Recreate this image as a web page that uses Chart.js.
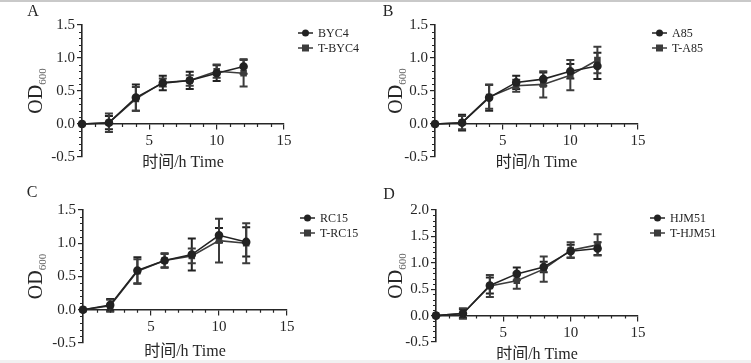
<!DOCTYPE html>
<html>
<head>
<meta charset="utf-8">
<script src="https://cdn.jsdelivr.net/npm/chart.js@4.4.1/dist/chart.umd.min.js"></script>
<style>
  body { margin: 0; background: #fff; }
  #wrap { position: relative; width: 751px; height: 363px; background: #fff; overflow: hidden; }
  #wrap canvas { position: absolute; }
  .topline { position: absolute; left: 0; top: 0; width: 751px; height: 2px; background: #c9c9c9; }
  .bottomband { position: absolute; left: 0; top: 360px; width: 751px; height: 3px; background: #f1f1f1; }
</style>
</head>
<body>
<div id="wrap">
  <div class="topline"></div>
  <canvas id="cA" width="375" height="180" style="left:0;top:0"></canvas>
  <canvas id="cB" width="376" height="180" style="left:375px;top:0"></canvas>
  <canvas id="cC" width="375" height="180" style="left:0;top:180px"></canvas>
  <canvas id="cD" width="376" height="180" style="left:375px;top:180px"></canvas>
  <div class="bottomband"></div>
</div>
<script>
// ---- data ----
const times = [0, 2, 4, 6, 8, 10, 12];
const xTicks = [5, 10, 15];
const yTicksABC = [-0.5, 0, 0.5, 1.0, 1.5];
const yTicksD = [-0.5, 0, 0.5, 1.0, 1.5, 2.0];

// A
const byc4 = [0, 0.02, 0.40, 0.62, 0.66, 0.77, 0.87];
const byc4Err = [0, 0.10, 0.20, 0.11, 0.13, 0.12, 0.11];
const tByc4 = [0, 0.02, 0.38, 0.63, 0.66, 0.80, 0.77];
const tByc4Err = [0, 0.14, 0.18, 0.06, 0.08, 0.10, 0.20];
// B
const a85 = [0, 0.02, 0.40, 0.63, 0.68, 0.80, 0.88];
const a85Err = [0, 0.12, 0.20, 0.10, 0.10, 0.11, 0.20];
const tA85 = [0, 0.02, 0.41, 0.58, 0.60, 0.74, 0.97];
const tA85Err = [0, 0.10, 0.18, 0.09, 0.20, 0.23, 0.20];
// C
const rc15 = [0, 0.07, 0.59, 0.74, 0.83, 1.12, 1.02];
const rc15Err = [0, 0.09, 0.20, 0.11, 0.24, 0.11, 0.22];
const tRc15 = [0, 0.06, 0.58, 0.74, 0.81, 1.04, 1.00];
const tRc15Err = [0, 0.09, 0.18, 0.10, 0.11, 0.33, 0.30];
// D
const hjm51 = [0, 0.04, 0.57, 0.79, 0.92, 1.22, 1.27];
const hjm51Err = [0, 0.08, 0.15, 0.12, 0.10, 0.12, 0.12];
const tHjm51 = [0, 0.04, 0.56, 0.66, 0.88, 1.24, 1.34];
const tHjm51Err = [0, 0.10, 0.21, 0.15, 0.24, 0.15, 0.20];

const SERIF = "'Liberation Serif', 'Noto Sans CJK SC', serif";
const INK = "#262626";

// error bars with caps, drawn through the scales
const errorBars = {
  id: "errorBars",
  beforeDatasetsDraw(chart) {
    const { ctx, scales: { x, y } } = chart;
    chart.data.datasets.forEach((ds) => {
      ctx.save();
      ctx.strokeStyle = ds.borderColor;
      ctx.lineWidth = 2;
      ds.data.forEach((p, j) => {
        const e = ds.errors[j];
        if (!e) return;
        const px = x.getPixelForValue(p.x);
        const top = y.getPixelForValue(p.y + e);
        const bot = y.getPixelForValue(p.y - e);
        ctx.beginPath();
        ctx.moveTo(px, top); ctx.lineTo(px, bot);
        ctx.moveTo(px - 4, top); ctx.lineTo(px + 4, top);
        ctx.moveTo(px - 4, bot); ctx.lineTo(px + 4, bot);
        ctx.stroke();
      });
      ctx.restore();
    });
  }
};

// minor ticks, y title with subscript, legend, panel letter
const decor = {
  id: "decor",
  afterDraw(chart) {
    const { ctx, scales: { x, y }, chartArea } = chart;
    const o = chart.options.plugins.decor;
    ctx.save();
    ctx.strokeStyle = INK;
    ctx.lineWidth = 1.2;
    const axisY = y.getPixelForValue(0);
    ctx.beginPath();
    for (let v = 1; v < 15; v++) {
      if (v % 5 === 0) continue;
      const px = Math.round(x.getPixelForValue(v)) + 0.5;
      ctx.moveTo(px, axisY); ctx.lineTo(px, axisY + 3);
    }
    for (let k = Math.round(y.min * 10); k <= Math.round(y.max * 10); k++) {
      if (k % 5 === 0) continue;
      const py = Math.round(y.getPixelForValue(k / 10)) + 0.5;
      ctx.moveTo(chartArea.left, py); ctx.lineTo(chartArea.left - 3, py);
    }
    ctx.stroke();

    // y title OD600
    ctx.fillStyle = INK;
    ctx.translate(o.titleX, (chartArea.top + chartArea.bottom) / 2);
    ctx.rotate(-Math.PI / 2);
    ctx.font = "20px " + SERIF;
    const w1 = ctx.measureText("OD").width;
    ctx.font = "11px " + SERIF;
    const w2 = ctx.measureText("600").width;
    const start = -(w1 + w2) / 2;
    ctx.textBaseline = "alphabetic";
    ctx.textAlign = "left";
    ctx.font = "20px " + SERIF;
    ctx.fillText("OD", start, 7);
    ctx.fillStyle = "#666";
    ctx.font = "11px " + SERIF;
    ctx.fillText("600", start + w1, 11);
    ctx.restore();

    // panel letter
    ctx.save();
    ctx.fillStyle = INK;
    ctx.font = "16px " + SERIF;
    ctx.textAlign = "center";
    ctx.textBaseline = "middle";
    ctx.fillText(o.letter, o.letterX, o.letterY);

    // legend
    ctx.font = "12px " + SERIF;
    ctx.textAlign = "left";
    chart.data.datasets.forEach((ds, i) => {
      const ly = o.legendY + i * 15;
      ctx.strokeStyle = ds.borderColor;
      ctx.fillStyle = ds.borderColor;
      ctx.lineWidth = 1.5;
      ctx.beginPath();
      ctx.moveTo(o.legendX, ly); ctx.lineTo(o.legendX + 15, ly);
      ctx.stroke();
      const cx = o.legendX + 7.5;
      ctx.beginPath();
      if (ds.pointStyle === "rect") ctx.rect(cx - 3.5, ly - 3.5, 7, 7);
      else ctx.arc(cx, ly, 3.5, 0, Math.PI * 2);
      ctx.fill();
      ctx.fillStyle = INK;
      ctx.fillText(ds.label, o.legendX + 20, ly + 1);
    });
    ctx.restore();
  }
};

function series(label, vals, errs, style, color) {
  return {
    label: label,
    data: times.map((t, i) => ({ x: t, y: vals[i] })),
    errors: errs,
    borderColor: color,
    backgroundColor: color,
    borderWidth: 1.6,
    pointStyle: style,
    pointRadius: 3.5,
    pointHoverRadius: 3.5,
    tension: 0,
    clip: false
  };
}

function makeChart(id, sets, yTicks, pad, deco) {
  const yMin = yTicks[0], yMax = yTicks[yTicks.length - 1];
  new Chart(document.getElementById(id), {
    type: "line",
    data: { datasets: sets },
    options: {
      responsive: false,
      animation: false,
      events: [],
      layout: { padding: pad },
      plugins: { legend: { display: false }, tooltip: { enabled: false }, decor: deco },
      scales: {
        x: {
          type: "linear",
          min: 0, max: 15,
          position: { y: 0 },
          afterBuildTicks: (s) => { s.ticks = xTicks.map((v) => ({ value: v })); },
          grid: { drawOnChartArea: false, drawTicks: true, tickLength: 5, color: INK, lineWidth: 1.2 },
          border: { display: true, color: INK, width: 1.6 },
          ticks: { color: INK, font: { family: SERIF, size: 15 }, padding: 3, maxRotation: 0, autoSkip: false },
          title: { display: true, text: "时间/h Time", color: INK, font: { family: SERIF, size: 16 }, padding: { top: deco.xTitlePad, bottom: 0 } }
        },
        y: {
          type: "linear",
          min: yMin, max: yMax,
          position: "left",
          afterBuildTicks: (s) => { s.ticks = yTicks.map((v) => ({ value: v })); },
          afterFit: (s) => { s.width = 40; },
          grid: { drawOnChartArea: false, drawTicks: true, tickLength: 5, color: INK, lineWidth: 1.2 },
          border: { display: true, color: INK, width: 1.6 },
          ticks: { color: INK, font: { family: SERIF, size: 15 }, padding: 2, callback: (v) => Number(v).toFixed(1) }
        }
      }
    },
    plugins: [errorBars, decor]
  });
}

makeChart("cA",
  [series("BYC4", byc4, byc4Err, "circle", "#222"), series("T-BYC4", tByc4, tByc4Err, "rect", "#3c3c3c")],
  yTicksABC, { left: 42, right: 91, top: 25, bottom: 23 },
  { letter: "A", letterX: 33, letterY: 12, titleX: 35, legendX: 298, legendY: 33, xTitlePad: 0 });

makeChart("cB",
  [series("A85", a85, a85Err, "circle", "#222"), series("T-A85", tA85, tA85Err, "rect", "#3c3c3c")],
  yTicksABC, { left: 20, right: 113, top: 25, bottom: 23 },
  { letter: "B", letterX: 13, letterY: 12, titleX: 20, legendX: 277, legendY: 33, xTitlePad: 0 });

makeChart("cC",
  [series("RC15", rc15, rc15Err, "circle", "#222"), series("T-RC15", tRc15, tRc15Err, "rect", "#3c3c3c")],
  yTicksABC, { left: 43, right: 88, top: 30, bottom: 17 },
  { letter: "C", letterX: 32, letterY: 13, titleX: 35, legendX: 300, legendY: 38, xTitlePad: 3 });

makeChart("cD",
  [series("HJM51", hjm51, hjm51Err, "circle", "#222"), series("T-HJM51", tHjm51, tHjm51Err, "rect", "#3c3c3c")],
  yTicksD, { left: 21, right: 113, top: 30, bottom: 18 },
  { letter: "D", letterX: 14, letterY: 15, titleX: 20, legendX: 275, legendY: 38, xTitlePad: 1 });
</script>
</body>
</html>
